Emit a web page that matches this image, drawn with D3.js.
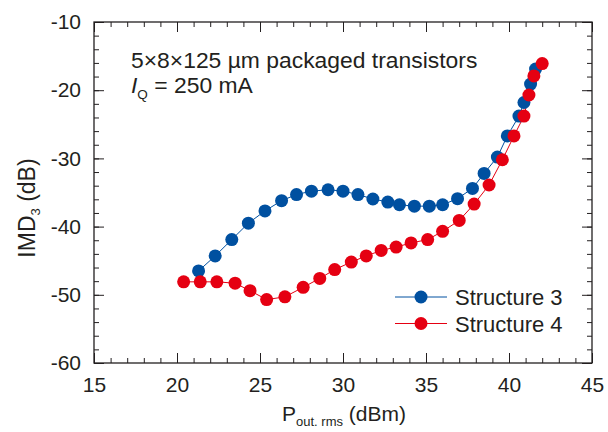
<!DOCTYPE html>
<html><head><meta charset="utf-8">
<script src="https://cdn.jsdelivr.net/npm/d3@7/dist/d3.min.js"></script>
<style>body{margin:0;background:#fff}svg text{font-family:"Liberation Sans",Arial,sans-serif;fill:#231f20}</style>
</head><body><svg id="c" width="608" height="432"></svg>
<script>
const s3x=[21.3,22.3,23.3,24.3,25.3,26.3,27.2,28.1,29.1,30.0,30.9,31.8,32.7,33.4,34.3,35.2,36.0,36.9,37.8,38.5,39.3,39.9,40.6,40.9,41.3,41.6];
const s3y=[-46.5,-44.3,-41.9,-39.5,-37.7,-36.2,-35.3,-34.8,-34.6,-34.8,-35.3,-35.95,-36.4,-36.8,-37.0,-37.0,-36.8,-35.9,-34.4,-32.2,-29.8,-26.7,-23.8,-21.8,-19.1,-16.9];
const s4x=[20.4,21.4,22.4,23.5,24.4,25.4,26.5,27.6,28.6,29.5,30.5,31.4,32.3,33.2,34.1,35.1,36.0,37.0,37.9,38.8,39.6,40.3,40.9,41.2,41.5,42.0];
const s4y=[-48.1,-48.1,-48.1,-48.3,-49.4,-50.7,-50.3,-48.9,-47.6,-46.3,-45.2,-44.3,-43.5,-43.0,-42.4,-41.9,-40.7,-39.1,-36.7,-33.9,-30.2,-26.7,-23.8,-20.7,-17.9,-16.1];
const xTicks=[15,20,25,30,35,40,45];
const yTicks=[-60,-50,-40,-30,-20,-10];
const seriesNames=["Structure 3","Structure 4"];
const colors=["#0050a0","#e50012"];

const L=94,R=592,T=22,B=363;
const svg=d3.select("#c");
const x=d3.scaleLinear().domain([15,45]).range([L,R]);
const y=d3.scaleLinear().domain([-60,-10]).range([B,T]);
const ink="#231f20";
const xMinor=d3.range(15,46,1), yMinor=d3.range(-60,-9,2);
function axis(gen,tr){const g=svg.append("g").attr("transform",tr).call(gen);g.select(".domain").remove();g.selectAll("line").attr("stroke",ink).attr("stroke-width",1);return g;}
axis(d3.axisBottom(x).tickValues(xMinor).tickSize(-5).tickFormat(""),`translate(0,${B})`);
axis(d3.axisTop(x).tickValues(xMinor).tickSize(-5).tickFormat(""),`translate(0,${T})`);
axis(d3.axisLeft(y).tickValues(yMinor).tickSize(-5).tickFormat(""),`translate(${L},0)`);
axis(d3.axisRight(y).tickValues(yMinor).tickSize(-5).tickFormat(""),`translate(${R},0)`);
const gx=axis(d3.axisBottom(x).tickValues(xTicks).tickSize(-10).tickPadding(14).tickFormat(d3.format("d")),`translate(0,${B})`);
axis(d3.axisTop(x).tickValues(xTicks).tickSize(-10).tickFormat(""),`translate(0,${T})`);
const gy=axis(d3.axisLeft(y).tickValues(yTicks).tickSize(-10).tickPadding(13).tickFormat(d=>String(d)),`translate(${L},0)`);
axis(d3.axisRight(y).tickValues(yTicks).tickSize(-10).tickFormat(""),`translate(${R},0)`);
gx.selectAll("text").attr("font-size",21).attr("fill",ink).attr("font-family","Liberation Sans, Arial, sans-serif");
gy.selectAll("text").attr("font-size",21).attr("fill",ink).attr("font-family","Liberation Sans, Arial, sans-serif");
svg.append("rect").attr("x",L).attr("y",T).attr("width",R-L).attr("height",B-T).attr("fill","none").attr("stroke",ink).attr("stroke-width",1.3);

const data=[d3.zip(s3x,s3y),d3.zip(s4x,s4y)];
const line=d3.line().x(d=>x(d[0])).y(d=>y(d[1]));
data.forEach((d,i)=>{
  svg.append("path").attr("d",line(d)).attr("fill","none").attr("stroke",colors[i]).attr("stroke-width",1);
});
data.forEach((d,i)=>{
  svg.append("g").selectAll("circle").data(d).join("circle").attr("cx",p=>x(p[0])).attr("cy",p=>y(p[1])).attr("r",6.5).attr("fill",colors[i]);
});
// legend
seriesNames.forEach((n,i)=>{
  const cy=297+i*26.5;
  svg.append("line").attr("x1",395).attr("x2",447).attr("y1",cy).attr("y2",cy).attr("stroke",colors[i]).attr("stroke-width",1);
  svg.append("circle").attr("cx",421).attr("cy",cy).attr("r",6.5).attr("fill",colors[i]);
  svg.append("text").attr("x",455).attr("y",cy+8).attr("font-size",22).text(n);
});
// annotation
svg.append("text").attr("transform","translate(131,68) scale(1.04,1)").attr("font-size",22).text("5×8×125 µm packaged transistors");
const t2=svg.append("text").attr("transform","translate(131,93) scale(1.04,1)").attr("font-size",22);
t2.append("tspan").attr("font-style","italic").text("I");
t2.append("tspan").attr("font-size",13).attr("dy",6).text("Q");
t2.append("tspan").attr("dy",-6).text(" = 250 mA");
// axis titles
const xt=svg.append("text").attr("x",344).attr("y",421).attr("text-anchor","middle").attr("font-size",21);
xt.append("tspan").text("P");
xt.append("tspan").attr("font-size",13).attr("dy",5).text("out. rms");
xt.append("tspan").attr("dy",-5).text(" (dBm)");
const yt=svg.append("text").attr("transform","translate(35,208) rotate(-90)").attr("text-anchor","middle").attr("font-size",23);
yt.append("tspan").text("IMD");
yt.append("tspan").attr("font-size",13).attr("dy",5).text("3");
yt.append("tspan").attr("dy",-5).text(" (dB)");
</script></body></html>
